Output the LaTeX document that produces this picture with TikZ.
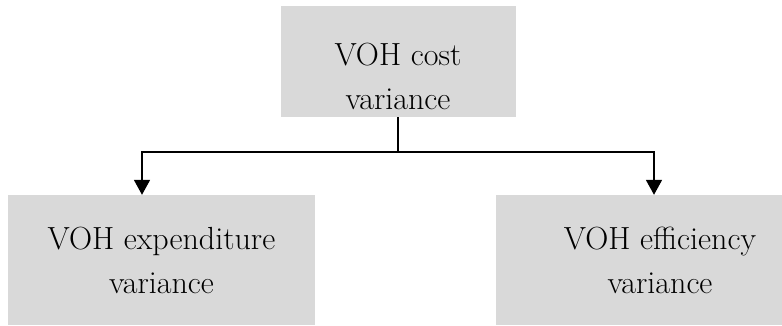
\documentclass[tikz,border=0pt]{standalone}
\usepackage{fontspec}
\usepackage{tikz}
\usetikzlibrary{arrows.meta,calc,positioning}
\definecolor{boxgray}{HTML}{D9D9D9}
\tikzset{box/.style={fill=boxgray,align=center,inner sep=0pt,font=\fontsize{32}{44}\selectfont},
  arr/.style={-{Triangle[width=16pt,length=15pt]},line width=1.8pt}}

\begin{document}
\begin{tikzpicture}[x=1pt,y=1pt]
\useasboundingbox (0,0) rectangle (782,325);
\clip (0,0) rectangle (782,325);
\node[box,minimum width=235pt,minimum height=111pt] (cost) at (398,263.5) {\rule{0pt}{52pt}VOH cost\\variance};
\node[box,minimum width=307pt,minimum height=130pt] (expend) at (161.5,65) {VOH expenditure\\variance};
\node[box,minimum width=328pt,minimum height=130pt] (effic) at (660,65) {VOH efficiency\\variance};
\coordinate (split) at ($(cost.south)+(0,-35)$);
\draw[line width=1.8pt] (cost.south) -- (split);
\draw[arr] (split) -| ([xshift=-19.5pt]expend.north);
\draw[arr] (split) -| ([xshift=-6pt]effic.north);
\end{tikzpicture}
\end{document}
